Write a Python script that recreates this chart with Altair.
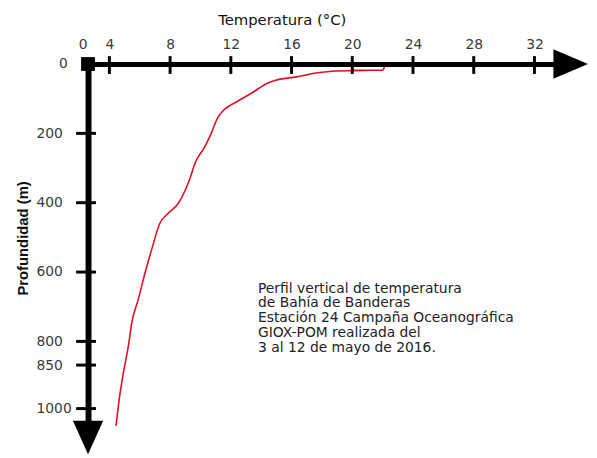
import altair as alt
import pandas as pd

# Temperature profile (°C) vs depth (m)
temp = [22.13, 21.98, 21.07, 20.03, 18.92, 17.62, 16.32, 15.02, 14.37, 13.51,
        12.42, 11.55, 11.12, 10.68, 10.25, 9.71, 9.17, 8.52, 7.86, 7.32,
        6.78, 6.35, 5.91, 5.48, 5.26, 4.94, 4.66, 4.44]
depth = [8, 18, 18.5, 18, 20, 26, 37, 46, 56, 80,
         108, 132, 156, 203, 241, 279, 346, 403, 431, 460,
         536, 602, 678, 745, 808, 872, 963, 1060]

x_ticks = [0, 4, 8, 12, 16, 20, 24, 28, 32]
y_ticks = [0, 200, 400, 600, 800, 850, 1000]

note_lines = ["Perfil vertical de temperatura",
              "de Bahía de Banderas",
              "Estación 24 Campaña Oceanográfica",
              "GIOX-POM realizada del",
              "3 al 12 de mayo de 2016."]

FONT = "DejaVu Sans"
FONT_V = "Liberation Sans"
W, H = 471, 361

profile = pd.DataFrame({"temp": temp, "depth": depth})
xt = pd.DataFrame({"temp": [t for t in x_ticks if t > 0]})
yt = pd.DataFrame({"depth": [t for t in y_ticks if t > 0]})

xscale = alt.Scale(domain=[0, 4, 33.25], range=[0, 21.6, W], nice=False, zero=False)
yscale = alt.Scale(domain=[0, 800, 850, 1000, 1042], range=[0, 280.7, 304.7, 348.7, H],
                   nice=False, zero=False)

x_axis = alt.Axis(orient="top", values=x_ticks, ticks=False, tickSize=0, grid=False,
                  domainWidth=5, domainColor="black",
                  labelFont=FONT, labelFontSize=14, labelColor="#3a3a3a",
                  labelBaseline="alphabetic", labelPadding=15.3,
                  labelFlush=False, labelOverlap=False,
                  labelOffset={"condition": {"test": "datum.value === 0", "value": -5.5}, "value": 0},
                  title="Temperatura (°C)", titleFont=FONT, titleFontSize=15,
                  titleFontWeight="normal", titleColor="#111111",
                  titleX=196, titleY=-45, titleBaseline="middle", titleAlign="center")
y_axis = alt.Axis(orient="left", values=y_ticks, format="d", ticks=False, tickSize=0, grid=False,
                  domainWidth=6, domainColor="black",
                  labelFont=FONT, labelFontSize=14, labelColor="#3a3a3a",
                  labelPadding={"condition": [{"test": "datum.value === 0", "value": 21},
                                              {"test": "datum.value === 1000", "value": 17}],
                                "value": 26},
                  labelFlush=False, labelOverlap=False,
                  title="Profundidad (m)", titleFont=FONT_V, titleFontSize=15,
                  titleFontWeight="bold", titleColor="#111111",
                  titleX=-66, titleY=176, titleAngle=-90,
                  titleBaseline="middle", titleAlign="center")

X = alt.X("temp:Q", scale=xscale, axis=x_axis)
Y = alt.Y("depth:Q", scale=yscale, axis=y_axis)

curve = alt.Chart(profile).mark_line(color="#dd1122", strokeWidth=1.6,
                                     interpolate="monotone").encode(
    x=X, y=Y, order="depth:Q",
)

xtick_rules = alt.Chart(xt).mark_rule(color="black", strokeWidth=3).encode(
    x=X, y=alt.value(-8), y2=alt.value(10),
)
ytick_rules = alt.Chart(yt).mark_rule(color="black", strokeWidth=3).encode(
    y=Y, x=alt.value(-12), x2=alt.value(8),
)

one = pd.DataFrame({"k": [0]})
corner = alt.Chart(one).mark_point(shape="square", filled=True, color="black",
                                   size=196, opacity=1).encode(
    x=alt.value(0), y=alt.value(0))
arrow_x = alt.Chart(one).mark_point(shape="M0,-0.857L2,0L0,0.857Z", filled=True,
                                    color="black", size=1225, opacity=1).encode(
    x=alt.value(W), y=alt.value(0))
arrow_y = alt.Chart(one).mark_point(shape="M-0.9,0L0.9,0L0,2Z", filled=True,
                                    color="black", size=1156, opacity=1).encode(
    x=alt.value(0), y=alt.value(H))

note = alt.Chart(one).mark_text(text=note_lines, align="left", baseline="alphabetic",
                                font=FONT, fontSize=14, lineHeight=15,
                                color="#222222").encode(
    x=alt.value(172), y=alt.value(231.3))

chart = alt.layer(curve, xtick_rules, ytick_rules, corner, arrow_x, arrow_y, note).properties(
    width=W, height=H,
    autosize=alt.AutoSizeParams(type="none"),
    padding={"left": 81, "top": 54, "right": 36, "bottom": 34},
).configure_view(stroke=None)

chart.save("out.html", embed_options={"renderer": "svg", "actions": False})
